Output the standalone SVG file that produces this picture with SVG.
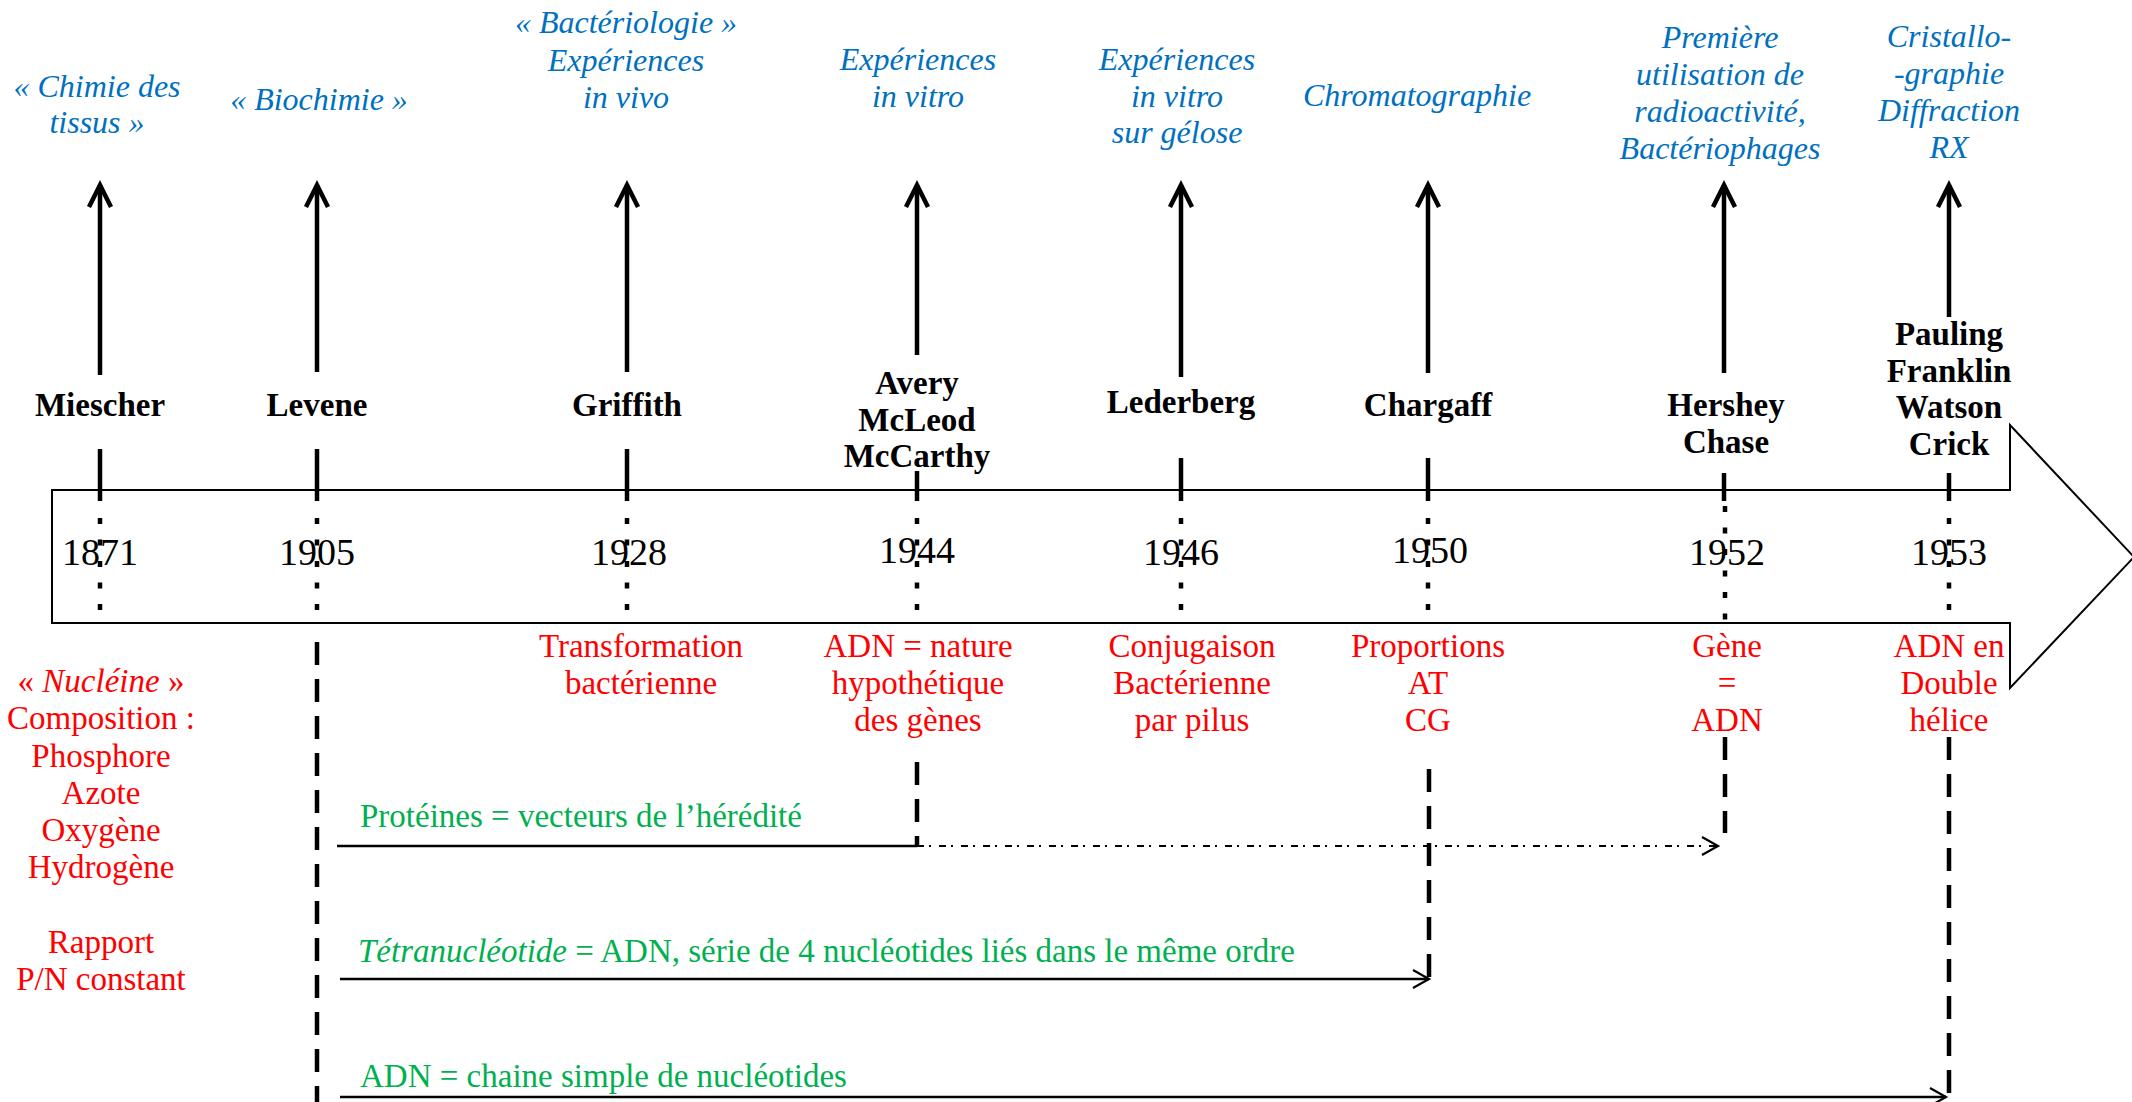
<svg xmlns="http://www.w3.org/2000/svg" width="2132" height="1102" viewBox="0 0 2132 1102">
<style>
text{font-family:"Liberation Serif","Times New Roman",serif;text-anchor:middle}
.name{font-size:33px;font-weight:bold;fill:#000}
.blue{font-size:32px;font-style:italic;fill:#0070C0}
.red{font-size:33px;fill:#FF0000}
.green{font-size:33px;fill:#00B050;text-anchor:start}
.year{font-size:38px;fill:#000}
.up{stroke:#000;stroke-width:4.5;fill:none;marker-end:url(#upHead)}
.tick{stroke:#000;stroke-width:4.5}
.dots{stroke:#000;stroke-width:4.5;stroke-dasharray:6 15.5}
.dash{stroke:#000;stroke-width:4.5;stroke-dasharray:23 14;fill:none}
.h{stroke:#000;stroke-width:2.5;fill:none}
.hd{stroke:#000;stroke-width:2;fill:none;stroke-dasharray:7 5 2 8}
.it{font-style:italic}
</style>
<defs>
<marker id="upHead" markerUnits="userSpaceOnUse" viewBox="-30 -15 36 30" markerWidth="36" markerHeight="30" refX="0" refY="0" orient="auto" overflow="visible">
<path d="M-22,-11 L0,0 L-22,11" fill="none" stroke="#000" stroke-width="4.5"/>
</marker>
<marker id="hHead" markerUnits="userSpaceOnUse" viewBox="-20 -12 24 24" markerWidth="24" markerHeight="24" refX="0" refY="0" orient="auto" overflow="visible">
<path d="M-16,-9 L0,0 L-16,9" fill="none" stroke="#000" stroke-width="2.2"/>
</marker>
</defs>
<rect width="2132" height="1102" fill="#fff"/>

<g id="timeline">
<polygon points="52,490 2010,490 2010,425 2134,557 2010,688 2010,623 52,623" fill="none" stroke="#000" stroke-width="2"/>
</g>

<g id="miescher">
<text class="blue" x="97" y="97">« Chimie des</text>
<text class="blue" x="97" y="133">tissus »</text>
<text class="name" x="100" y="416">Miescher</text>
<text class="year" x="100" y="565">1871</text>
<line class="tick" x1="100" y1="449" x2="100" y2="501"/>
<line class="dots" x1="100" y1="518" x2="100" y2="612"/>
<text class="red" x="101"><tspan x="101" y="692">« <tspan class="it">Nucléine</tspan> »</tspan><tspan x="101" y="729">Composition :</tspan><tspan x="101" y="767">Phosphore</tspan><tspan x="101" y="804">Azote</tspan><tspan x="101" y="841">Oxygène</tspan><tspan x="101" y="878">Hydrogène</tspan><tspan x="101" y="953">Rapport</tspan><tspan x="101" y="990">P/N constant</tspan></text>
</g>

<g id="levene">
<text class="blue" x="319" y="110">« Biochimie »</text>
<text class="name" x="317" y="416">Levene</text>
<text class="year" x="317" y="565">1905</text>
<line class="tick" x1="317" y1="449" x2="317" y2="501"/>
<line class="dots" x1="317" y1="518" x2="317" y2="612"/>
</g>

<g id="griffith">
<text class="blue" x="626" y="33">« Bactériologie »</text>
<text class="blue" x="626" y="71">Expériences</text>
<text class="blue" x="626" y="108">in vivo</text>
<text class="name" x="627" y="416">Griffith</text>
<text class="year" x="629" y="565">1928</text>
<line class="tick" x1="627" y1="449" x2="627" y2="501"/>
<line class="dots" x1="627" y1="518" x2="627" y2="612"/>
<text class="red" x="641" y="657">Transformation</text>
<text class="red" x="641" y="694">bactérienne</text>
</g>

<g id="avery">
<text class="blue" x="918" y="70">Expériences</text>
<text class="blue" x="918" y="107">in vitro</text>
<text class="name" x="917" y="394">Avery</text>
<text class="name" x="917" y="431">McLeod</text>
<text class="name" x="917" y="467">McCarthy</text>
<text class="year" x="917" y="563">1944</text>
<line class="tick" x1="917" y1="471" x2="917" y2="501"/>
<line class="dots" x1="917" y1="518" x2="917" y2="612"/>
<text class="red" x="918" y="657">ADN = nature</text>
<text class="red" x="918" y="694">hypothétique</text>
<text class="red" x="918" y="731">des gènes</text>
</g>

<g id="lederberg">
<text class="blue" x="1177" y="70">Expériences</text>
<text class="blue" x="1177" y="107">in vitro</text>
<text class="blue" x="1177" y="143">sur gélose</text>
<text class="name" x="1181" y="413">Lederberg</text>
<text class="year" x="1181" y="565">1946</text>
<line class="tick" x1="1181" y1="458" x2="1181" y2="501"/>
<line class="dots" x1="1181" y1="518" x2="1181" y2="612"/>
<text class="red" x="1192" y="657">Conjugaison</text>
<text class="red" x="1192" y="694">Bactérienne</text>
<text class="red" x="1192" y="731">par pilus</text>
</g>

<g id="chargaff">
<text class="blue" x="1417" y="106">Chromatographie</text>
<text class="name" x="1428" y="416">Chargaff</text>
<text class="year" x="1430" y="563">1950</text>
<line class="tick" x1="1428" y1="458" x2="1428" y2="501"/>
<line class="dots" x1="1428" y1="518" x2="1428" y2="612"/>
<text class="red" x="1428" y="657">Proportions</text>
<text class="red" x="1428" y="694">AT</text>
<text class="red" x="1428" y="731">CG</text>
</g>

<g id="hershey">
<text class="blue" x="1720" y="48">Première</text>
<text class="blue" x="1720" y="85">utilisation de</text>
<text class="blue" x="1720" y="122">radioactivité,</text>
<text class="blue" x="1720" y="159">Bactériophages</text>
<text class="name" x="1726" y="416">Hershey</text>
<text class="name" x="1726" y="453">Chase</text>
<text class="year" x="1727" y="565">1952</text>
<line class="tick" x1="1724" y1="473" x2="1724" y2="501"/>
<line class="dots" x1="1725" y1="506" x2="1725" y2="621"/>
<text class="red" x="1727" y="657">Gène</text>
<text class="red" x="1727" y="694">=</text>
<text class="red" x="1727" y="731">ADN</text>
</g>

<g id="pauling">
<text class="blue" x="1949" y="47">Cristallo-</text>
<text class="blue" x="1949" y="84">-graphie</text>
<text class="blue" x="1949" y="121">Diffraction</text>
<text class="blue" x="1949" y="158">RX</text>
<text class="name" x="1949" y="345">Pauling</text>
<text class="name" x="1949" y="382">Franklin</text>
<text class="name" x="1949" y="418">Watson</text>
<text class="name" x="1949" y="455">Crick</text>
<text class="year" x="1949" y="565">1953</text>
<line class="tick" x1="1949" y1="473" x2="1949" y2="501"/>
<line class="dots" x1="1949" y1="518" x2="1949" y2="612"/>
<text class="red" x="1949" y="657">ADN en</text>
<text class="red" x="1949" y="694">Double</text>
<text class="red" x="1949" y="731">hélice</text>
</g>

<g id="connectors">
<line class="up" x1="100" y1="375" x2="100" y2="185"/>
<line class="up" x1="317" y1="372" x2="317" y2="185"/>
<line class="up" x1="627" y1="372" x2="627" y2="185"/>
<line class="up" x1="917" y1="355" x2="917" y2="185"/>
<line class="up" x1="1181" y1="377" x2="1181" y2="185"/>
<line class="up" x1="1428" y1="373" x2="1428" y2="185"/>
<line class="up" x1="1724" y1="373" x2="1724" y2="185"/>
<line class="up" x1="1949" y1="317" x2="1949" y2="185"/>
<line class="dash" x1="317" y1="642" x2="317" y2="1102"/>
<line class="dash" x1="917" y1="762" x2="917" y2="846"/>
<line class="dash" x1="1429" y1="769" x2="1429" y2="980"/>
<line class="dash" x1="1725" y1="737" x2="1725" y2="833"/>
<line class="dash" x1="1949" y1="737" x2="1949" y2="1102"/>
<line class="h" x1="337" y1="846" x2="917" y2="846"/>
<line class="hd" x1="917" y1="846" x2="1718" y2="846" style="marker-end:url(#hHead)"/>
<line class="h" x1="340" y1="979" x2="1429" y2="979" style="marker-end:url(#hHead)"/>
<line class="h" x1="340" y1="1097" x2="1946" y2="1097" style="marker-end:url(#hHead)"/>
<text class="green" x="360" y="827">Protéines = vecteurs de l’hérédité</text>
<text class="green" x="358" y="962"><tspan class="it">Tétranucléotide</tspan> = ADN, série de 4 nucléotides liés dans le même ordre</text>
<text class="green" x="360" y="1087">ADN = chaine simple de nucléotides</text>
</g>
</svg>
